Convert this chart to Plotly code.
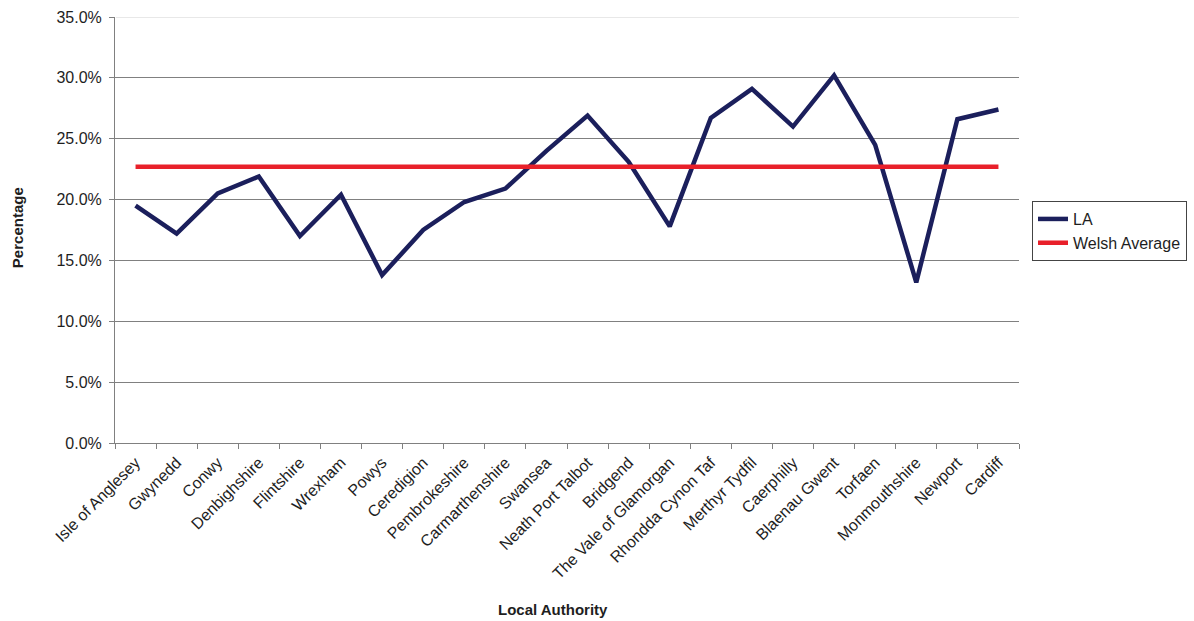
import plotly.graph_objects as go

authorities = ["Isle of Anglesey", "Gwynedd", "Conwy", "Denbighshire", "Flintshire",
               "Wrexham", "Powys", "Ceredigion", "Pembrokeshire", "Carmarthenshire",
               "Swansea", "Neath Port Talbot", "Bridgend", "The Vale of Glamorgan",
               "Rhondda Cynon Taf", "Merthyr Tydfil", "Caerphilly", "Blaenau Gwent",
               "Torfaen", "Monmouthshire", "Newport", "Cardiff"]
la_values = [0.195, 0.172, 0.205, 0.219, 0.170, 0.204, 0.138, 0.175, 0.198, 0.209,
             0.240, 0.269, 0.231, 0.178, 0.267, 0.291, 0.260, 0.302, 0.245, 0.132,
             0.266, 0.274]
welsh_average = [0.227] * len(authorities)
y_ticks = [0, 0.05, 0.10, 0.15, 0.20, 0.25, 0.30, 0.35]

font = "Liberation Sans, Arial, sans-serif"
txt = "#1e1e1e"

fig = go.Figure()
fig.add_trace(go.Scatter(x=authorities, y=la_values, mode="lines", name="LA",
                         line=dict(color="#1b1f5c", width=4.5)))
fig.add_trace(go.Scatter(x=authorities, y=welsh_average, mode="lines", name="Welsh Average",
                         line=dict(color="#e8202a", width=4.5)))

fig.update_layout(
    width=1194, height=621,
    margin=dict(l=115, r=175, t=17, b=178, autoexpand=False),
    paper_bgcolor="white", plot_bgcolor="white",
    font=dict(family=font, size=16, color=txt),
    showlegend=True,
    legend=dict(x=1.0144, y=0.568, xanchor="left", yanchor="top",
                bordercolor="#444444", borderwidth=1, bgcolor="white",
                font=dict(family=font, size=16, color=txt),
                tracegroupgap=0),
    xaxis=dict(type="category", range=[-0.5, len(authorities) - 0.5],
               tickson="boundaries", ticks="outside", ticklen=5, tickcolor="#808080",
               showgrid=False, showline=True, linecolor="#808080", linewidth=1,
               tickangle=-45, ticklabelstandoff=3,
               tickfont=dict(family=font, size=16, color=txt)),
    yaxis=dict(range=[0, 0.35], tickvals=y_ticks, tickformat=".1%",
               ticks="outside", ticklen=5, tickcolor="#808080",
               showgrid=True, gridcolor="#808080", gridwidth=1,
               showline=True, linecolor="#808080", linewidth=1, zeroline=False,
               ticklabelstandoff=4,
               tickfont=dict(family=font, size=16, color=txt)),
    annotations=[
        dict(text="<b>Percentage</b>", xref="paper", yref="paper", x=-0.107, y=0.505,
             xanchor="center", yanchor="middle", textangle=-90, showarrow=False,
             font=dict(family=font, size=15, color=txt)),
        dict(text="<b>Local Authority</b>", xref="paper", yref="paper", x=0.484, y=-0.39,
             xanchor="center", yanchor="middle", showarrow=False,
             font=dict(family=font, size=15, color=txt)),
    ],
    shapes=[dict(type="line", xref="paper", yref="y", x0=0.001, x1=1, y0=0.35, y1=0.35,
                 line=dict(color="#e0e0e0", width=1.5), layer="above")],
)

fig.write_html("out.html")
